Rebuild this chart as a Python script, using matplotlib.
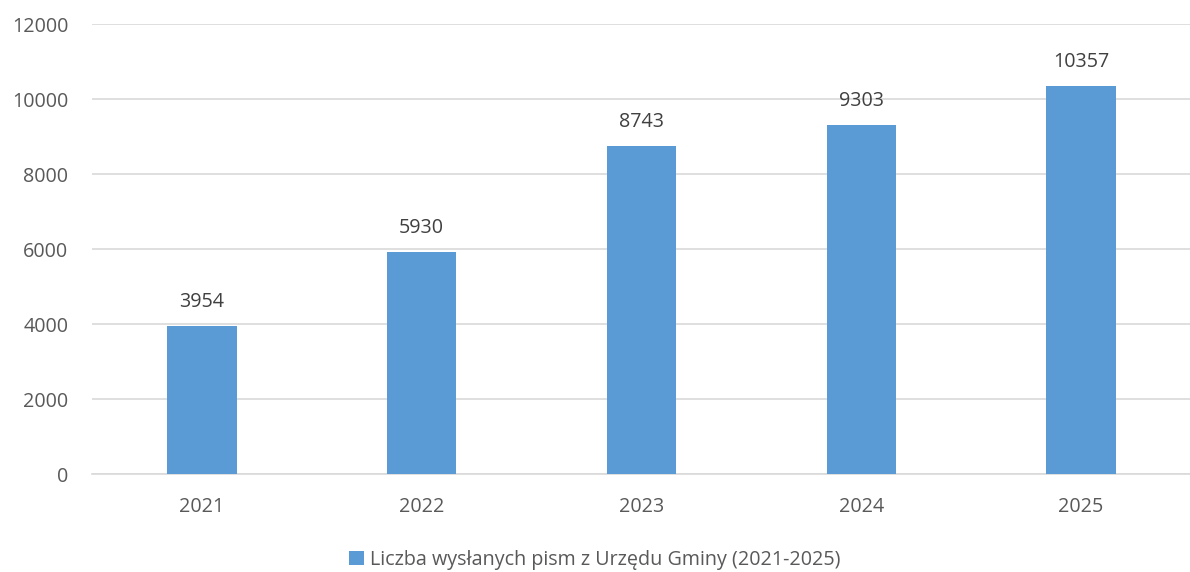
import matplotlib
matplotlib.use("Agg")
import matplotlib.pyplot as plt
from matplotlib.patches import Patch

years = ["2021", "2022", "2023", "2024", "2025"]
values = [3954, 5930, 8743, 9303, 10357]
series_name = "Liczba wysłanych pism z Urzędu Gminy (2021-2025)"
yticks = [0, 2000, 4000, 6000, 8000, 10000, 12000]

plt.rcParams['font.family'] = ['Open Sans', 'DejaVu Sans']
text_color = "#595959"
bar_color = "#5B9BD5"
grid_color = "#D9D9D9"
fs = 14.2

fig = plt.figure(figsize=(11.9, 5.72), dpi=100)
ax = fig.add_axes([92/1190, 1 - 474.3/572, (1191 - 92)/1190, (474.3 - 24)/572])

x = list(range(len(years)))
bars = ax.bar(x, values, width=0.315, color=bar_color, zorder=3)
ax.set_xlim(-0.5, len(years) - 0.5)
ax.set_ylim(0, 12000)
ax.set_yticks(yticks)
ax.set_yticklabels([str(t) for t in yticks])
ax.set_xticks(x)
ax.set_xticklabels(years)
ax.yaxis.grid(True, color=grid_color, linewidth=1.2, zorder=0)
ax.set_axisbelow(True)
for s in ["top", "right", "left"]:
    ax.spines[s].set_visible(False)
ax.spines["bottom"].set_color(grid_color)
ax.spines["bottom"].set_linewidth(1.2)
ax.tick_params(axis="both", length=0, labelsize=fs, colors=text_color)
ax.tick_params(axis="y", pad=17)
ax.tick_params(axis="x", pad=16)

for xi, v in zip(x, values):
    ax.annotate(str(v), (xi, v), xytext=(0, 10), textcoords="offset points",
                ha="center", va="bottom", fontsize=fs, color="#404040")

handle = Patch(facecolor=bar_color, edgecolor="none")
fig.legend([handle], [series_name], loc="center", bbox_to_anchor=(0.5, 1 - 560/572),
           frameon=False, fontsize=fs, labelcolor=text_color,
           handlelength=0.75, handleheight=0.75, handletextpad=0.3)

fig.savefig("out.png", dpi=100)
